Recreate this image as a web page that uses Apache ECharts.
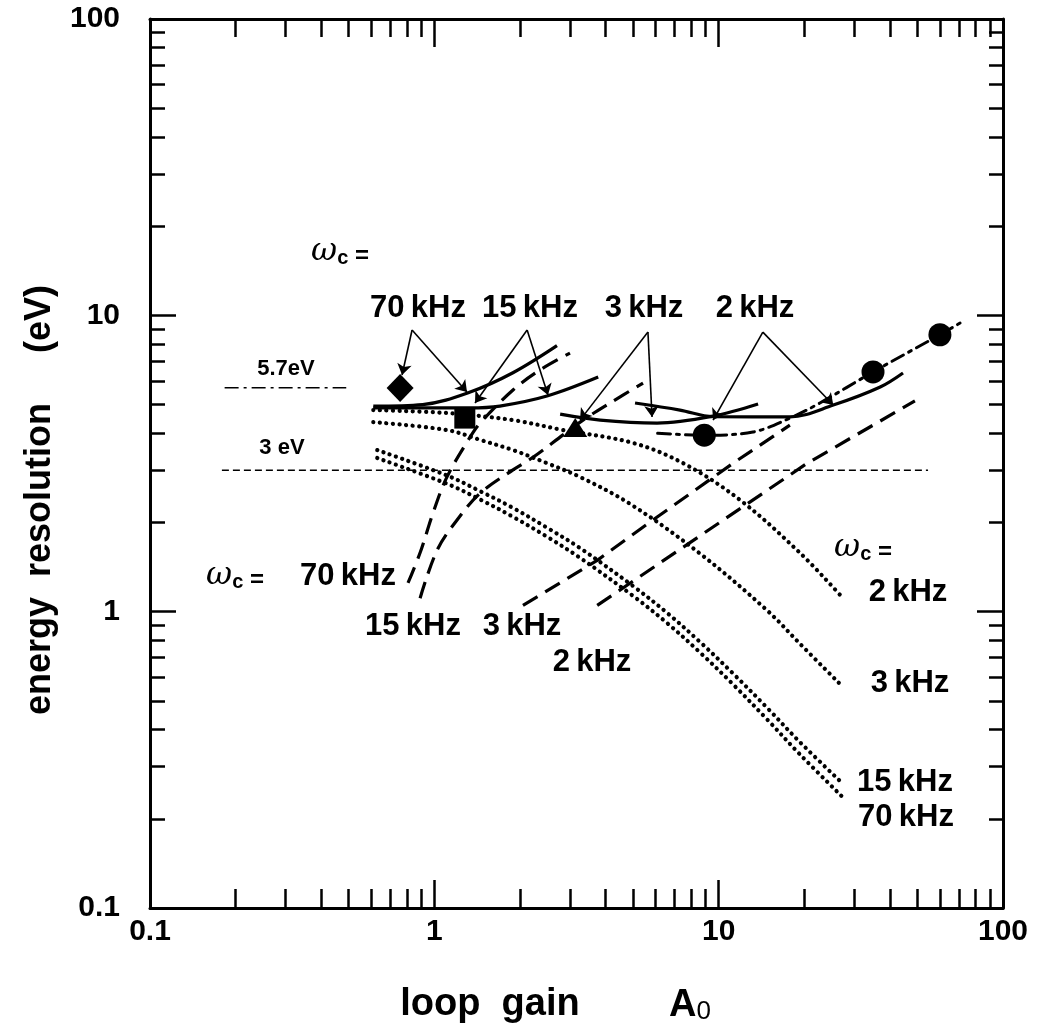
<!DOCTYPE html>
<html><head><meta charset="utf-8">
<script src="https://cdn.jsdelivr.net/npm/echarts@6.0.0/dist/echarts.min.js"></script>
<style>html,body{margin:0;padding:0;background:#fff}#c{width:1048px;height:1033px}</style>
</head><body><div id="c"></div>
<script>
// ---- tick values / labels ----
const xMajorTicks = [0.1, 1, 10, 100];
const xTickLabels = ['0.1', '1', '10', '100'];
const yMajorTicks = [0.1, 1, 10, 100];
const yTickLabels = ['0.1', '1', '10', '100'];
const minorTicks = [0.2,0.3,0.4,0.5,0.6,0.7,0.8,0.9, 2,3,4,5,6,7,8,9, 20,30,40,50,60,70,80,90];

// ---- reference levels ----
const ref57 = [[0.183, 5.7], [0.49, 5.7]];
const ref3 = [[0.179, 3], [54.5, 3]];

// ---- total resolution (solid) ----
const total70 = [[0.61,4.94],[0.91,5.0],[1.33,5.5],[1.89,6.4],[2.7,7.9]];
const total15 = [[0.61,4.87],[0.91,4.87],[1.33,4.87],[1.7,4.94],[2.49,5.34],[3.77,6.19]];
const total3  = [[2.77,4.64],[3.83,4.43],[6.07,4.33],[9.56,4.57],[13.76,5.02]];
const total2  = [[5.08,5.06],[7.31,4.79],[9.56,4.55],[17.8,4.54],[25.3,4.98],[37,5.73],[44.5,6.39]];

// ---- rising (dashed) ----
const rise70 = [[0.808,1.25],[0.891,1.58],[0.989,2.15],[1.108,2.85],[1.335,3.88],[1.448,4.33],[1.891,5.6],[2.354,6.54],[3.0,7.46]];
const rise15 = [[0.891,1.11],[1.022,1.61],[1.202,2.04],[1.448,2.51],[1.891,3.01],[2.224,3.32],[2.836,3.95],[3.334,4.43],[4.15,5.06],[5.42,5.91]];
const rise3  = [[2.05,1.05],[3.74,1.49],[5.88,2.04],[11.24,3.17],[17.8,4.26]];
const rise2  = [[3.74,1.05],[7.5,1.65],[20.5,3.17],[49,5.14]];

// ---- falling (dotted) ----
const fall2  = [[0.61,4.79],[1.11,4.68],[1.89,4.43],[2.84,4.10],[5.0,3.71],[7.5,3.17],[11.9,2.38],[19.3,1.58],[26.7,1.14]];
const fall3  = [[0.61,4.36],[1.11,4.10],[1.45,3.80],[1.89,3.51],[2.49,3.17],[3.25,2.85],[4.88,2.31],[8.6,1.57],[14.8,1.01],[19.3,0.78],[26.7,0.57]];
const fall15 = [[0.63,3.51],[1.11,2.88],[1.45,2.55],[1.89,2.24],[2.49,1.92],[3.25,1.64],[5.0,1.22],[6.59,0.99],[8.6,0.79],[11.24,0.618],[14.8,0.474],[19.3,0.363],[27.4,0.262]];
const fall70 = [[0.63,3.30],[1.11,2.70],[1.45,2.39],[1.89,2.09],[2.49,1.79],[3.25,1.52],[5.0,1.13],[6.59,0.915],[8.6,0.728],[11.24,0.568],[14.8,0.433],[19.3,0.33],[28,0.231]];

// ---- measured (2 kHz dash-dot + points) ----
const meas2 = [[6.1,4.0],[8.9,3.94],[13.2,4.04],[17.8,4.5],[22.7,5.06],[34.9,6.44],[60,8.6],[73.6,9.64]];
const pt70 = [[0.758,5.69]];
const pt15 = [[1.28,4.5]];
const pt3  = [[3.13,4.18]];
const pt2  = [[8.9,3.94],[34.9,6.44],[60,8.6]];

// ---- arrows (from label apex to target) ----
const arrows = [
  [[0.835,8.92],[0.77,6.29]], [[0.835,8.92],[1.303,5.51]],
  [[2.12,8.92],[1.39,5.06]],  [[2.12,8.92],[2.51,5.38]],
  [[5.64,8.78],[3.254,4.43]], [[5.64,8.78],[5.83,4.54]],
  [[14.3,8.78],[9.56,4.43]],  [[14.3,8.78],[25.3,4.98]]
];

const FONT = '"Liberation Sans", Arial, Helvetica, sans-serif';
function lbl(vals, labels) {
  return v => { for (let i = 0; i < vals.length; i++) if (Math.abs(Math.log10(v) - Math.log10(vals[i])) < 1e-6) return labels[i]; return ''; };
}
function axis(kind, grid, pos, ticks, len, showLine, labels) {
  const a = {
    type: 'log', logBase: 10, gridIndex: grid, position: pos, min: 0.1, max: 100,
    axisLine: { show: showLine, onZero: false, lineStyle: { color: '#000', width: 3 } },
    axisTick: { show: true, inside: true, length: len, customValues: ticks, lineStyle: { color: '#000', width: 2.5 } },
    axisLabel: { show: false },
    splitLine: { show: false }, minorTick: { show: false }, minorSplitLine: { show: false }
  };
  if (labels) {
    a.axisLabel = { show: true, customValues: ticks, formatter: lbl(ticks, labels), color: '#000',
      fontFamily: FONT, fontWeight: 'bold', fontSize: 30, margin: kind === 'x' ? 9 : 30 };
  }
  return a;
}
const GRID = { left: 150, right: 45, top: 19, bottom: 125 };

function ln(data, width, type, extra) {
  return Object.assign({ type: 'line', data, xAxisIndex: 0, yAxisIndex: 0, symbol: 'none', showSymbol: false,
    smooth: 0.35, silent: true, lineStyle: { color: '#000', width, type, cap: 'butt' } }, extra || {});
}
const solidW = 3.2, dashT = [17, 9], dotT = [0.1, 6.5];
function dotted(d) { return ln(d, 4, dotT, { lineStyle: { color: '#000', width: 4.2, type: dotT, cap: 'round' } }); }
function pts(d, symbol, size) {
  return { type: 'scatter', data: d, xAxisIndex: 0, yAxisIndex: 0, symbol, symbolSize: size, silent: true,
    itemStyle: { color: '#000', opacity: 1 }, z: 5 };
}

const txt = (x, y, text, size, extra) => ({ type: 'text', x, y, silent: true,
  style: Object.assign({ text, fill: '#000', font: 'bold ' + size + 'px ' + FONT, align: 'center', verticalAlign: 'middle' }, extra || {}) });
const omega = (x, y) => ({ type: 'text', x, y, silent: true, style: {
  text: '{w|ω}{c|c}{e| =}', align: 'center', verticalAlign: 'middle', fill: '#000',
  rich: {
    w: { fontFamily: '"DejaVu Serif", serif', fontStyle: 'italic', fontSize: 32, fill: '#000', verticalAlign: 'bottom', lineHeight: 32 },
    c: { fontFamily: FONT, fontWeight: 'bold', fontSize: 20, fill: '#000', verticalAlign: 'bottom', lineHeight: 26 },
    e: { fontFamily: FONT, fontWeight: 'bold', fontSize: 24, fill: '#000', verticalAlign: 'bottom', lineHeight: 30 }
  } } });
const K = '\u2009kHz';

const option = {
  backgroundColor: '#fff',
  animation: false,
  grid: [GRID, GRID],
  xAxis: [
    axis('x', 0, 'bottom', xMajorTicks, 28, true, xTickLabels),
    axis('x', 0, 'top', xMajorTicks, 28, true, null),
    axis('x', 1, 'bottom', minorTicks, 19, false, null),
    axis('x', 1, 'top', minorTicks, 18, false, null)
  ],
  yAxis: [
    axis('y', 0, 'left', yMajorTicks, 26, true, yTickLabels),
    axis('y', 0, 'right', yMajorTicks, 26, true, null),
    axis('y', 1, 'left', minorTicks, 15, false, null),
    axis('y', 1, 'right', minorTicks, 14, false, null)
  ],
  series: [
    ln(ref57, 1.6, [14, 5, 3, 5], { smooth: false }),
    ln(ref3, 1.4, [7, 4], { smooth: false }),
    ln(total70, solidW, 'solid'), ln(total15, solidW, 'solid'), ln(total3, solidW, 'solid'), ln(total2, solidW, 'solid'),
    ln(rise70, solidW, dashT), ln(rise15, solidW, dashT), ln(rise3, solidW, dashT, { smooth: false }), ln(rise2, solidW, dashT, { smooth: false }),
    dotted(fall2), dotted(fall3), dotted(fall15), dotted(fall70),
    ln(meas2, 3, [13, 6, 3, 6], { lineStyle: { color: '#000', width: 3, type: [13, 6, 3, 6], cap: 'round' } }),
    pts(pt70, 'diamond', [27, 28]), pts(pt15, 'rect', [21, 21]), pts(pt3, 'triangle', [24, 19]), pts(pt2, 'circle', 23),
    { type: 'lines', coordinateSystem: 'cartesian2d', xAxisIndex: 0, yAxisIndex: 0, silent: true, z: 6,
      symbol: ['none', 'arrow'], symbolSize: [0, 11],
      lineStyle: { color: '#000', width: 1.6, opacity: 1 },
      data: arrows.map(c => ({ coords: c })) }
  ],
  graphic: [
    omega(340, 252),
    txt(418, 308, '70' + K, 31), txt(530, 308, '15' + K, 31), txt(644, 308, '3' + K, 31), txt(755, 308, '2' + K, 31),
    txt(286, 369, '5.7eV', 22), txt(282, 448, '3 eV', 22),
    omega(235, 576),
    txt(348, 576, '70' + K, 31), txt(413, 626, '15' + K, 31), txt(522, 626, '3' + K, 31), txt(592, 662, '2' + K, 31),
    omega(863, 548),
    txt(908, 592, '2' + K, 31), txt(910, 683, '3' + K, 31), txt(905, 782, '15' + K, 31), txt(906, 817, '70' + K, 31),
    { type: 'text', x: 40, y: 500, rotation: Math.PI / 2, silent: true,
      style: { text: 'energy  resolution     (eV)', fill: '#000', font: 'bold 36px ' + FONT, align: 'center', verticalAlign: 'middle' } },
    txt(490, 1005, 'loop  gain', 38),
    { type: 'text', x: 690, y: 1005, silent: true, style: { text: '{a|A}{s|0}', align: 'center', verticalAlign: 'middle', fill: '#000',
      rich: { a: { fontFamily: FONT, fontWeight: 'bold', fontSize: 38, fill: '#000', verticalAlign: 'bottom', lineHeight: 40 },
              s: { fontFamily: FONT, fontSize: 26, fill: '#000', verticalAlign: 'bottom', lineHeight: 34 } } } }
  ]
};
const chart = echarts.init(document.getElementById('c'), null, { renderer: 'canvas' });
chart.setOption(option);
</script></body></html>
